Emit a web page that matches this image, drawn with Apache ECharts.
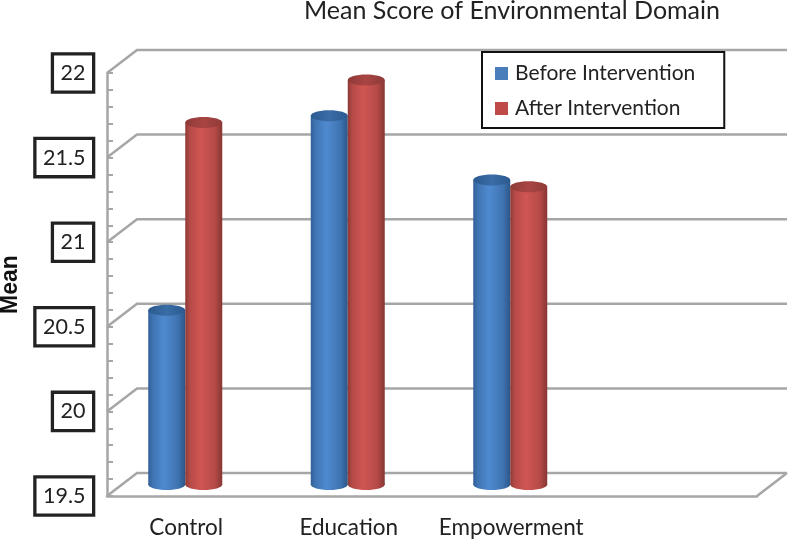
<!DOCTYPE html>
<html><head><meta charset="utf-8">
<style>html,body{margin:0;padding:0;background:#fff}#c{width:788px;height:539px}</style>
<script src="https://cdn.jsdelivr.net/npm/echarts@6/dist/echarts.min.js"></script>
</head><body><div id="c"></div>
<script>
const categories = ['Control', 'Education', 'Empowerment', ''];
const before = [20.53, 21.68, 21.3];
const after = [21.64, 21.89, 21.26];
const yTicks = [19.5, 20, 20.5, 21, 21.5, 22];

const FONT = 'Lato';
const DEPTH_X = 30, DEPTH_Y = -23;
const WALL = '#a6a6a6';
const chart = echarts.init(document.getElementById('c'), null, {renderer: 'canvas'});

function grad(stops) {
  return new echarts.graphic.LinearGradient(0, 0, 1, 0, stops.map((c, i) => ({offset: c[0], color: c[1]})));
}
const blueGrad = () => grad([[0,'#2f5f96'],[0.12,'#3f74b2'],[0.42,'#4f8ad0'],[0.8,'#3f74b2'],[1,'#2c5688']]);
const redGrad = () => grad([[0,'#8c3a38'],[0.12,'#b54a47'],[0.42,'#d05652'],[0.8,'#b54a47'],[1,'#863634']]);

function cylinder(offsetX, bodyGrad, topGrad) {
  return function (params, api) {
    const p = api.coord([api.value(0), api.value(1)]);
    const base = api.coord([api.value(0), 19.5]);
    const rx = 18.5, ry = 5.5;
    const cx = p[0] + offsetX, top = p[1] - 11.5, bot = base[1] - 11.5;
    const body = bodyGrad();
    return {type: 'group', children: [
      {type: 'ellipse', shape: {cx, cy: bot, rx, ry}, style: {fill: body}},
      {type: 'rect', shape: {x: cx - rx, y: top, width: rx * 2, height: bot - top}, style: {fill: body}},
      {type: 'ellipse', shape: {cx, cy: top, rx, ry}, style: {fill: topGrad()}}
    ]};
  };
}

function renderWall(params, api) {
  const v = api.value(0);
  const rect = params.coordSys;
  const y = api.coord([0, v])[1];
  const x0 = rect.x, x1 = rect.x + rect.width;
  const style = {stroke: WALL, lineWidth: 2.5, fill: null, lineJoin: 'miter'};
  const kids = [{type: 'polyline', shape: {points: [[x0, y], [x0 + DEPTH_X, y + DEPTH_Y], [x1 + DEPTH_X, y + DEPTH_Y]]}, style}];
  if (v === yTicks[0]) {
    kids.push({type: 'line', shape: {x1: x1, y1: y, x2: x1 + DEPTH_X, y2: y + DEPTH_Y}, style});
  }
  return {type: 'group', children: kids};
}

chart.setOption({
  animation: false,
  backgroundColor: '#fff',
  title: {
    text: 'Mean Score of Environmental Domain',
    left: 299, top: -7,
    textStyle: {fontFamily: FONT, fontSize: 25, fontWeight: 'normal', color: '#222'}
  },
  legend: {
    data: ['Before Intervention', 'After Intervention'],
    icon: 'rect',
    orient: 'vertical', left: 482, top: 52,
    padding: [11, 29, 9, 13],
    itemGap: 14, itemWidth: 13, itemHeight: 13,
    borderColor: '#111', borderWidth: 2, backgroundColor: '#fff',
    textStyle: {fontFamily: FONT, fontSize: 21, color: '#222', padding: [0, 0, 0, 2]}
  },
  grid: {left: 107, right: 31, top: 73, bottom: 43, outerBoundsMode: 'none'},
  xAxis: {
    type: 'category', data: categories,
    axisLine: {lineStyle: {color: WALL, width: 2.5}},
    axisTick: {show: false},
    axisLabel: {fontFamily: FONT, fontSize: 22.5, color: '#222', margin: 20, interval: 0, padding: [0, 4, 0, 0]},
    splitLine: {show: false}
  },
  yAxis: {
    type: 'value', min: 19.5, max: 22, interval: 0.5,
    name: 'Mean', nameLocation: 'middle', nameGap: 85, nameRotate: 90,
    nameTextStyle: {fontFamily: 'Liberation Sans', fontWeight: 'bold', fontSize: 23, color: '#111'},
    axisLine: {show: true, lineStyle: {color: WALL, width: 2.5}},
    axisTick: {show: true, inside: true, length: 6, lineStyle: {color: WALL, width: 2}},
    minorTick: {show: true, splitNumber: 5, length: 6, lineStyle: {color: WALL, width: 2}},
    splitLine: {show: false},
    axisLabel: {
      fontFamily: FONT, fontSize: 21.5, color: '#222', margin: 15,
      backgroundColor: '#fff', borderColor: '#222', borderWidth: 3.3,
      padding: [7, 6.5, 6, 6.5]
    }
  },
  series: [
    {type: 'custom', name: 'wall', silent: true, z: 1, clip: false,
      data: yTicks.map(v => [v]), encode: {y: 0}, renderItem: renderWall},
    {type: 'custom', name: 'Before Intervention', z: 3, clip: false,
      itemStyle: {color: '#4a7ebb'},
      data: before.map((v, i) => [i, v]), encode: {x: 0, y: 1},
      renderItem: cylinder(-21.5, blueGrad, () => grad([[0,'#2b5a90'],[0.5,'#3a6ca6'],[1,'#2b5a90']]))},
    {type: 'custom', name: 'After Intervention', z: 4, clip: false,
      itemStyle: {color: '#be4b48'},
      data: after.map((v, i) => [i, v]), encode: {x: 0, y: 1},
      renderItem: cylinder(15.5, redGrad, () => grad([[0,'#8f3a38'],[0.5,'#a84543'],[1,'#8f3a38']]))}
  ]
});
</script></body></html>
